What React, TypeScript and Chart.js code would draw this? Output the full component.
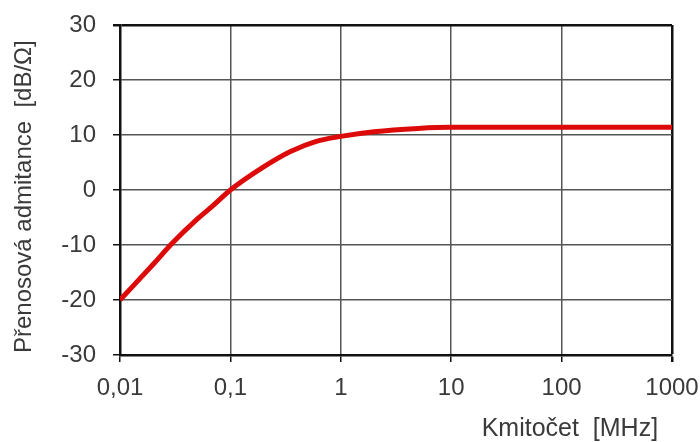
import React, { useEffect, useRef } from "react";
import { Chart, registerables } from "chart.js";

Chart.register(...registerables);

const frequencies = [0.01, 0.02, 0.03, 0.05, 0.07, 0.1, 0.2, 0.35, 0.6, 1, 2, 5, 10, 100, 1000];
const admittance = [-20, -13.5, -9.6, -5.3, -2.8, 0, 4.2, 7.0, 8.85, 9.75, 10.6, 11.2, 11.4, 11.4, 11.4];
const xTicks = [0.01, 0.1, 1, 10, 100, 1000];
const xTickLabels = ["0,01", "0,1", "1", "10", "100", "1000"];
const yTicks = [-30, -20, -10, 0, 10, 20, 30];

const FONT = "'Liberation Sans', Arial, sans-serif";
const TEXT = "#3a3a3a";
const GRID = "#555555";

export default function App() {
  const ref = useRef<HTMLCanvasElement | null>(null);
  useEffect(() => {
    if (!ref.current) return;
    const chart = new Chart(ref.current, {
      type: "line",
      data: {
        datasets: [
          {
            data: frequencies.map((f, i) => ({ x: f, y: admittance[i] })),
            borderColor: "#dd0a0a",
            borderWidth: 5,
            pointRadius: 0,
            cubicInterpolationMode: "monotone",
            fill: false,
          },
        ],
      },
      options: {
        animation: false,
        responsive: true,
        maintainAspectRatio: false,
        layout: { padding: { left: 0, top: 25, right: 28, bottom: 0 } },
        plugins: { legend: { display: false }, tooltip: { enabled: false } },
        scales: {
          x: {
            type: "logarithmic",
            min: 0.01,
            max: 1000,
            afterBuildTicks: (s: any) => {
              s.ticks = xTicks.map((v) => ({ value: v }));
            },
            afterFit: (s: any) => {
              s.height = 87;
              s.paddingLeft = 0;
              s.paddingRight = 0;
            },
            ticks: {
              autoSkip: false,
              maxRotation: 0,
              padding: 12,
              color: TEXT,
              font: { family: FONT, size: 24 },
              callback: (v: any) => {
                const i = xTicks.indexOf(Number(v));
                return i >= 0 ? xTickLabels[i] : "";
              },
            },
            grid: {
              color: (c: any) => (c.index === xTicks.length - 1 ? "#111" : GRID),
              lineWidth: (c: any) => (c.index === xTicks.length - 1 ? 2.5 : 1.5),
              tickColor: "#111",
              tickLength: 7,
            },
            border: { color: "#111", width: 2.5 },
            title: {
              display: true,
              text: "Kmitočet  [MHz]  ",
              align: "end",
              color: TEXT,
              font: { family: FONT, size: 25, lineHeight: 1.0 },
              padding: { top: 0, bottom: 0 },
            },
          },
          y: {
            min: -30,
            max: 30,
            afterBuildTicks: (s: any) => {
              s.ticks = yTicks.map((v) => ({ value: v }));
            },
            afterFit: (s: any) => {
              s.width = 120;
              s.paddingTop = 0;
              s.paddingBottom = 0;
            },
            ticks: {
              padding: 17,
              color: TEXT,
              font: { family: FONT, size: 24 },
            },
            grid: {
              color: (c: any) => (c.index === yTicks.length - 1 ? "#111" : GRID),
              lineWidth: (c: any) => (c.index === yTicks.length - 1 ? 2.5 : 1.5),
              tickColor: "#111",
              tickLength: 7,
            },
            border: { color: "#111", width: 2.5 },
            title: {
              display: true,
              text: "Přenosová admitance  [dB/Ω]  ",
              color: TEXT,
              font: { family: FONT, size: 24, lineHeight: 1.0 },
              padding: { top: 12, bottom: 0 },
            },
          },
        },
      },
    });
    return () => chart.destroy();
  }, []);
  return (
    <div style={{ position: "fixed", left: 0, top: 0, width: 700, height: 442, background: "#fff" }}>
      <canvas ref={ref} />
    </div>
  );
}
